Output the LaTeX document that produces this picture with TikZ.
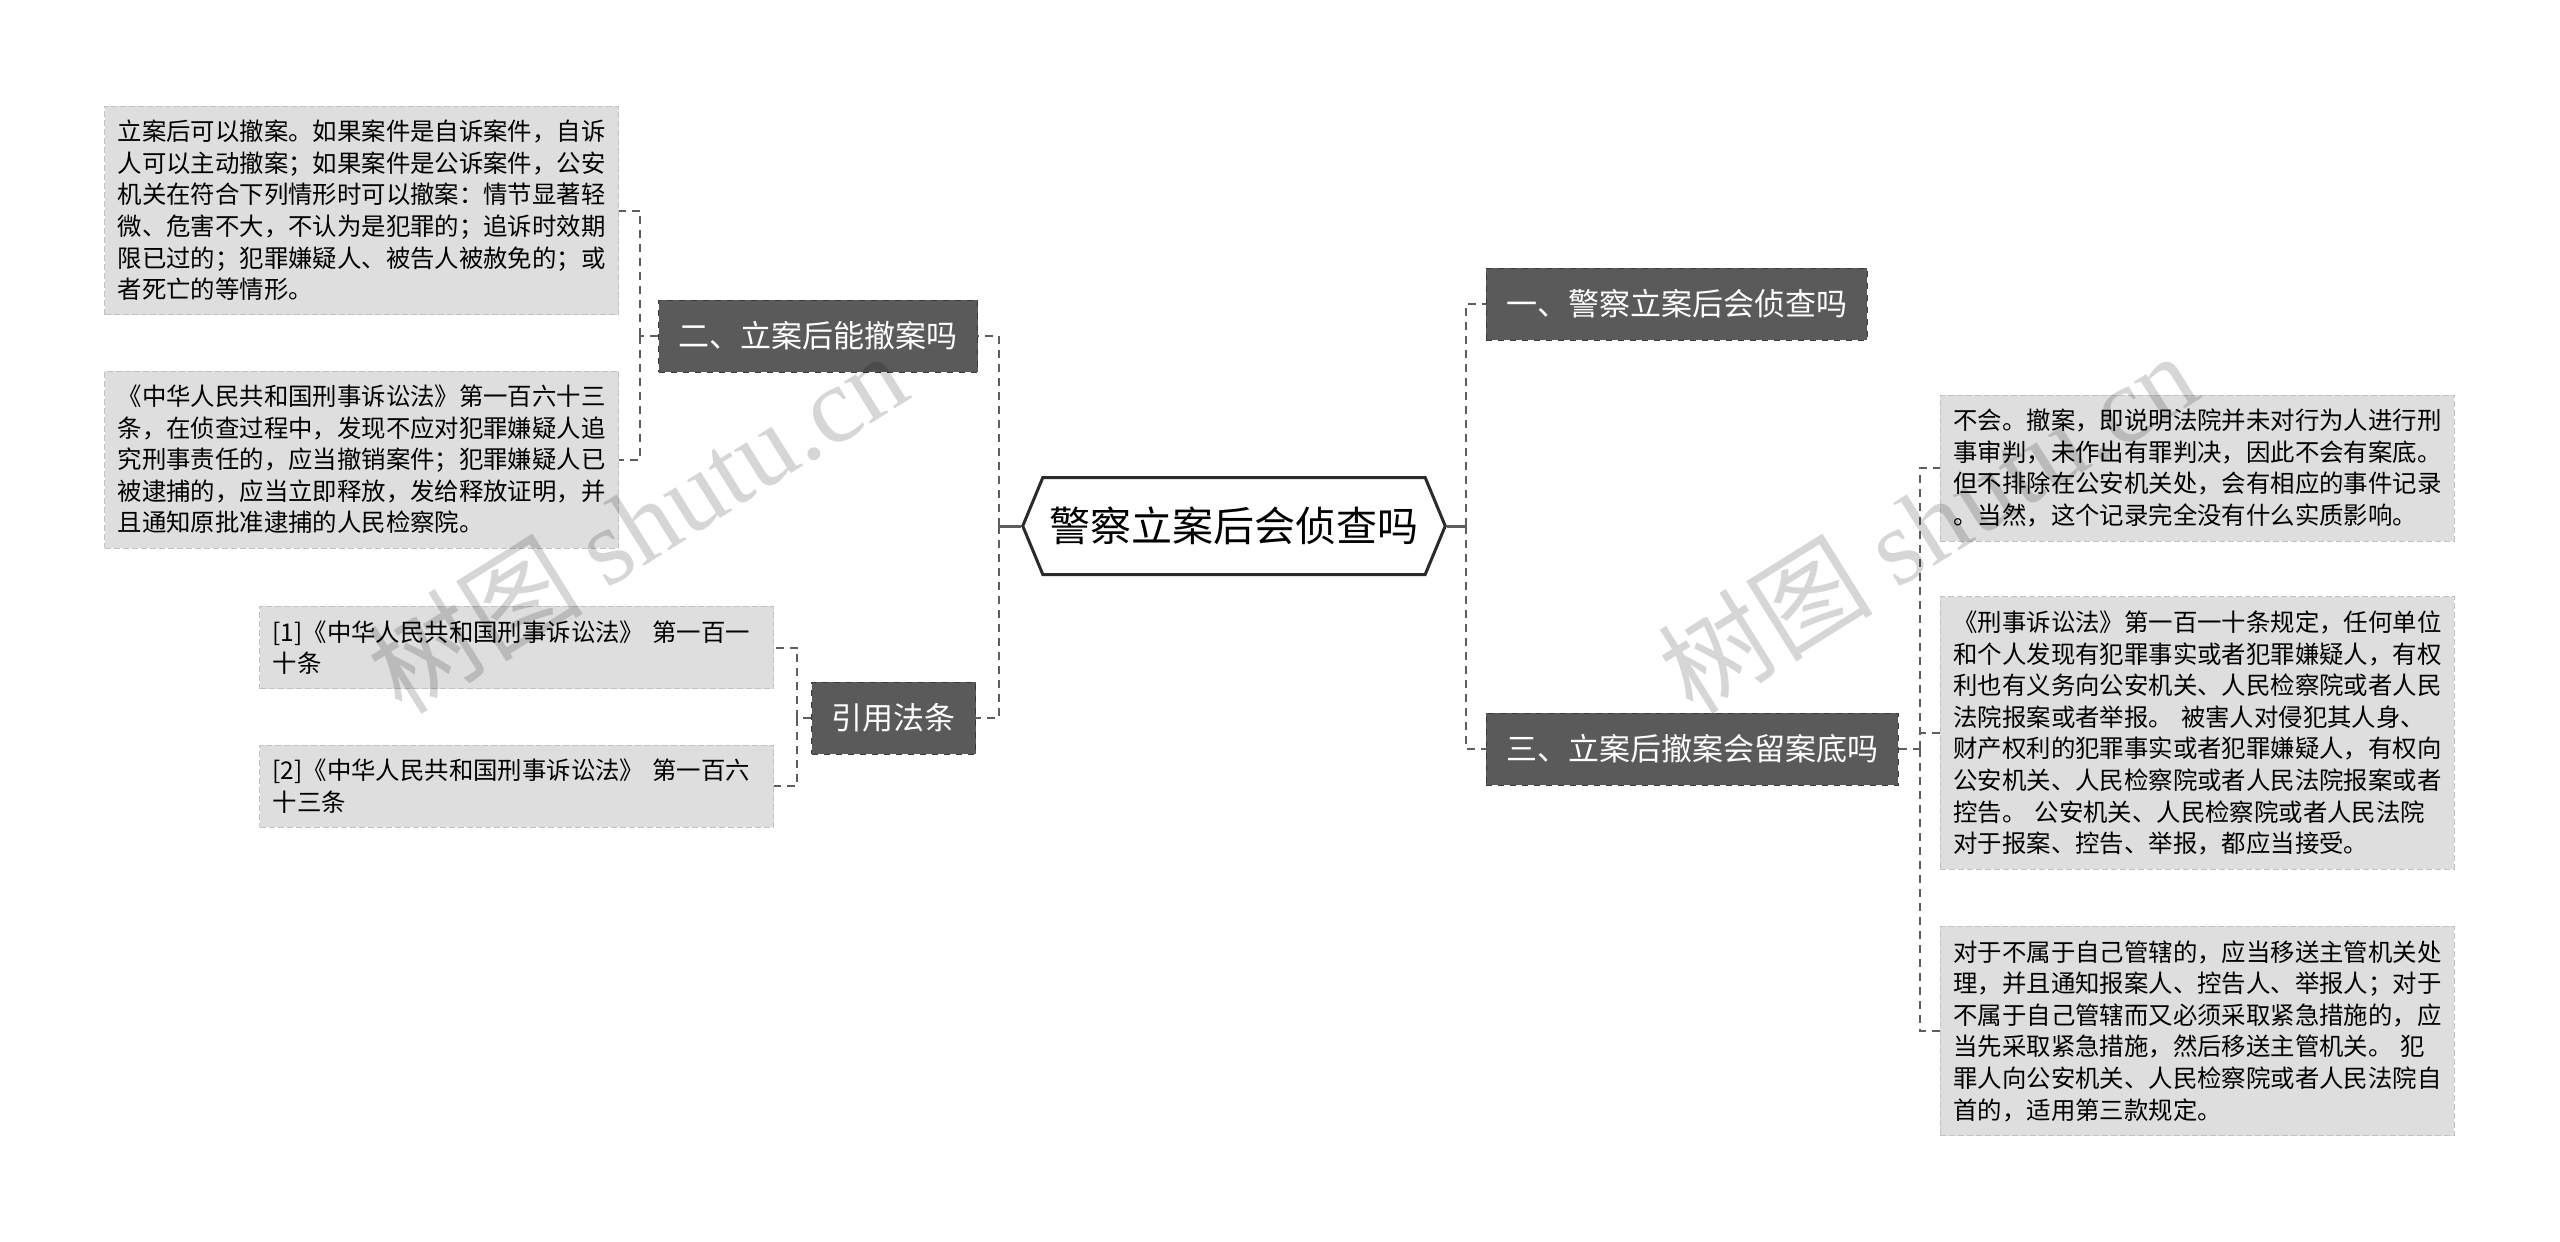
\documentclass[tikz,border=0pt]{standalone}
\usepackage{fontspec}
\setmainfont{Noto Sans CJK SC}
\newfontfamily\wmlatin{Liberation Serif}
\usepackage{tikz}
\usetikzlibrary{positioning,shapes.symbols}

\definecolor{leafgray}{HTML}{DEDEDE}
\definecolor{leafline}{HTML}{C2C2C2}
\definecolor{branchgray}{HTML}{5A5A5A}
\definecolor{branchline}{HTML}{3A3A3A}
\definecolor{linkgray}{HTML}{5E5E5E}
\definecolor{rootline}{HTML}{2A2A2A}

\begin{document}
\begin{tikzpicture}[
    x=0.5pt, y=-0.5pt,
    root/.style={signal, signal to=west and east, signal pointer angle=135, draw=rootline, line width=1.5pt, fill=white, minimum width=209pt, minimum height=48.5pt, font=\fontsize{20.5}{24}\selectfont},
    branch/.style={draw=branchline, dashed, fill=branchgray, text=white, minimum height=36pt, inner xsep=10pt, font=\fontsize{15.5}{18}\selectfont},
    leaf/.style={draw=leafline, dash pattern=on 3pt off 1.5pt, fill=leafgray, align=left, text width=244pt, inner xsep=6.5pt, inner ysep=7pt, font=\fontsize{12.2}{15.8}\selectfont},
    link/.style={draw=linkgray, line width=1pt, dash pattern=on 4pt off 3pt},
    stem/.style={draw=linkgray, line width=1.5pt},
    wm/.style={text=black, opacity=0.16, font=\fontsize{54}{60}\selectfont},
]
\useasboundingbox (0,0) rectangle (2560,1242);

% Central topic
\node[root] (root) at (1234,526) {警察立案后会侦查吗};

% Left branches
\node[branch, anchor=east] (b2) at (978,336) {二、立案后能撤案吗};
\node[branch, anchor=east] (bcite) at (976,718) {引用法条};

\node[leaf, anchor=east] (l1) at (619,210.5) {立案后可以撤案。如果案件是自诉案件，自诉\\人可以主动撤案；如果案件是公诉案件，公安\\机关在符合下列情形时可以撤案：情节显著轻\\微、危害不大，不认为是犯罪的；追诉时效期\\限已过的；犯罪嫌疑人、被告人被赦免的；或\\者死亡的等情形。};
\node[leaf, anchor=east] (l2) at (619,459.5) {《中华人民共和国刑事诉讼法》第一百六十三\\条，在侦查过程中，发现不应对犯罪嫌疑人追\\究刑事责任的，应当撤销案件；犯罪嫌疑人已\\被逮捕的，应当立即释放，发给释放证明，并\\且通知原批准逮捕的人民检察院。};
\node[leaf, anchor=east] (c1) at (774,647.5) {[1]《中华人民共和国刑事诉讼法》 第一百一\\十条};
\node[leaf, anchor=east] (c2) at (774,786) {[2]《中华人民共和国刑事诉讼法》 第一百六\\十三条};

% Right branches
\node[branch, anchor=west] (b1) at (1486,304) {一、警察立案后会侦查吗};
\node[branch, anchor=west] (b3) at (1486,749) {三、立案后撤案会留案底吗};

\node[leaf, anchor=west] (r1) at (1940,468) {不会。撤案，即说明法院并未对行为人进行刑\\事审判，未作出有罪判决，因此不会有案底。\\但不排除在公安机关处，会有相应的事件记录\\。当然，这个记录完全没有什么实质影响。};
\node[leaf, anchor=west] (r2) at (1940,733) {《刑事诉讼法》第一百一十条规定，任何单位\\和个人发现有犯罪事实或者犯罪嫌疑人，有权\\利也有义务向公安机关、人民检察院或者人民\\法院报案或者举报。 被害人对侵犯其人身、\\财产权利的犯罪事实或者犯罪嫌疑人，有权向\\公安机关、人民检察院或者人民法院报案或者\\控告。 公安机关、人民检察院或者人民法院\\对于报案、控告、举报，都应当接受。};
\node[leaf, anchor=west] (r3) at (1940,1031) {对于不属于自己管辖的，应当移送主管机关处\\理，并且通知报案人、控告人、举报人；对于\\不属于自己管辖而又必须采取紧急措施的，应\\当先采取紧急措施，然后移送主管机关。 犯\\罪人向公安机关、人民检察院或者人民法院自\\首的，适用第三款规定。};

% Bus points
\coordinate (busL) at (999,526);
\coordinate (busR) at (1466,526);
\coordinate (busB2) at (640,336);
\coordinate (busCite) at (797,718);
\coordinate (busB3) at (1920,749);

% Connectors
\draw[stem] (root.west) -- (busL);
\draw[stem] (root.east) -- (busR);
\draw[link] (busL) |- (b2.east);
\draw[link] (busL) |- (bcite.east);
\draw[link] (busR) |- (b1.west);
\draw[link] (busR) |- (b3.west);
\draw[link] (b2.west) -- (busB2);
\draw[link] (busB2) |- (l1.east);
\draw[link] (busB2) |- (l2.east);
\draw[link] (bcite.west) -- (busCite);
\draw[link] (busCite) |- (c1.east);
\draw[link] (busCite) |- (c2.east);
\draw[link] (b3.east) -- (busB3);
\draw[link] (busB3) |- (r1.west);
\draw[link] (busB3) |- (r2.west);
\draw[link] (busB3) |- (r3.west);

% Watermarks
\node[wm, rotate=32] (wmL) at (637,522) {树图 {\wmlatin shutu.cn}};
\node[wm, rotate=32] (wmR) at (1927,522) {树图 {\wmlatin shutu.cn}};

\end{tikzpicture}
\end{document}
